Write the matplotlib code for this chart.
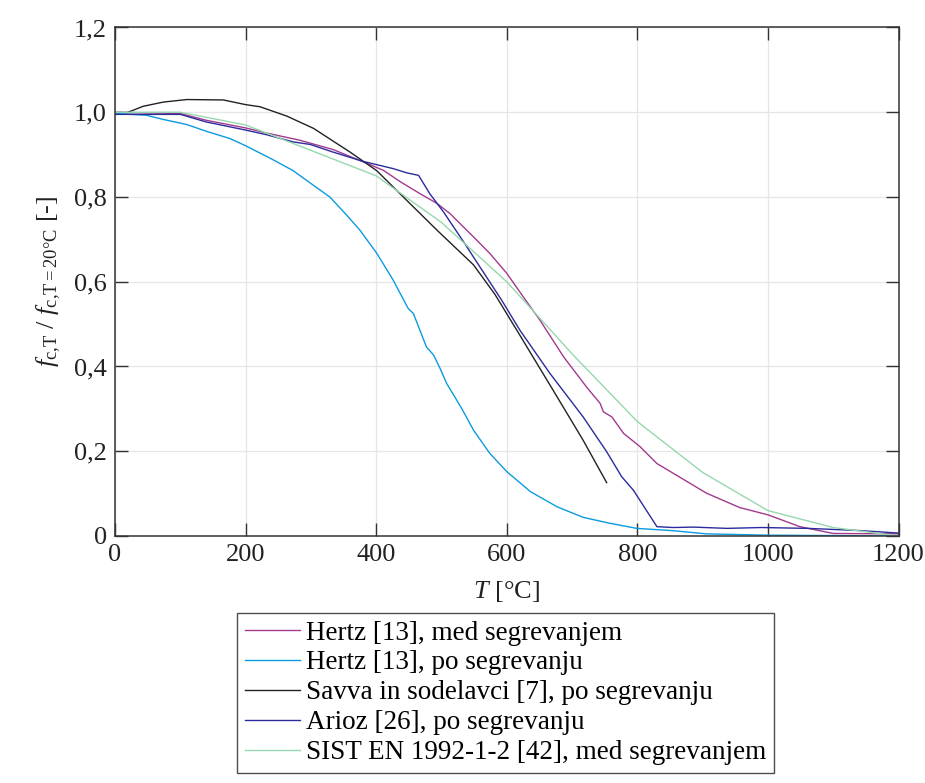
import matplotlib
matplotlib.use('Agg')
import matplotlib.pyplot as plt

# Hertz [13], med segrevanjem
t_hertz_med = [0, 100, 140, 200, 232, 283, 334, 380, 411, 437, 467, 493, 513, 528,
               549, 574, 600, 625, 651, 687, 722, 743, 748, 761, 779, 804, 830,
               855, 906, 957, 1000, 1049, 1100, 1200]
v_hertz_med = [1.0, 0.997, 0.981, 0.963, 0.951, 0.934, 0.912, 0.883, 0.863, 0.836, 0.808,
               0.785, 0.761, 0.738, 0.706, 0.667, 0.620, 0.565, 0.509, 0.423, 0.352,
               0.313, 0.293, 0.281, 0.242, 0.211, 0.171, 0.148, 0.101, 0.067, 0.050,
               0.022, 0.006, 0.005]

# Hertz [13], po segrevanju
t_hertz_po = [0, 48, 74, 110, 140, 176, 200, 242, 273, 299, 329, 355, 375, 401, 426,
              449, 457, 477, 488, 498, 508, 531, 549, 574, 600, 636, 677, 717, 758,
              799, 855, 906, 1000, 1200]
v_hertz_po = [0.997, 0.993, 0.983, 0.971, 0.955, 0.938, 0.921, 0.888, 0.862, 0.833,
              0.800, 0.757, 0.722, 0.667, 0.604, 0.537, 0.525, 0.446, 0.427, 0.395,
              0.360, 0.301, 0.250, 0.195, 0.152, 0.105, 0.069, 0.044, 0.030, 0.018,
              0.0125, 0.005, 0.002, 0.0]

# Savva in sodelavci [7], po segrevanju
t_savva = [20, 43, 74, 110, 166, 200, 222, 263, 304, 360, 401, 437, 493, 549, 582,
           620, 671, 717, 753]
v_savva = [1.0, 1.014, 1.024, 1.030, 1.029, 1.018, 1.013, 0.991, 0.962, 0.906, 0.862,
           0.807, 0.722, 0.640, 0.570, 0.474, 0.344, 0.226, 0.126]

# Arioz [26], po segrevanju
t_arioz = [0, 100, 140, 200, 232, 273, 299, 334, 380, 426, 447, 465, 482, 503, 534,
           564, 592, 620, 666, 717, 753, 776, 794, 830, 855, 886, 937, 990, 1061,
           1138, 1200]
v_arioz = [0.995, 0.995, 0.977, 0.958, 0.947, 0.930, 0.924, 0.906, 0.884, 0.867,
           0.857, 0.851, 0.808, 0.765, 0.694, 0.623, 0.557, 0.486, 0.384, 0.281,
           0.199, 0.140, 0.108, 0.022, 0.020, 0.021, 0.018, 0.020, 0.018, 0.013, 0.007]

# SIST EN 1992-1-2 [42], med segrevanjem
t_sist = [0, 100, 200, 300, 400, 500, 600, 700, 800, 900, 1000, 1100, 1200]
v_sist = [1.0, 1.0, 0.97, 0.91, 0.85, 0.74, 0.60, 0.43, 0.27, 0.15, 0.06, 0.02, 0.0]

x_ticks = [0, 200, 400, 600, 800, 1000, 1200]
y_ticks = [0, 0.2, 0.4, 0.6, 0.8, 1.0, 1.2]
y_tick_labels = ['0', '0,2', '0,4', '0,6', '0,8', '1,0', '1,2']

plt.rcParams['font.family'] = ['Liberation Serif', 'DejaVu Serif']
plt.rcParams['mathtext.fontset'] = 'custom'
plt.rcParams['mathtext.rm'] = 'Liberation Serif'
plt.rcParams['mathtext.it'] = 'Liberation Serif:italic'

fig = plt.figure(figsize=(9.25, 7.83), dpi=100)
ax = fig.add_axes([115 / 925, 1 - 536 / 783, (898.5 - 115) / 925, (536 - 27.5) / 783])

lw = 1.0
ax.plot(t_hertz_med, v_hertz_med, color='#a23a8e', lw=lw, label='Hertz [13], med segrevanjem')
ax.plot(t_hertz_po, v_hertz_po, color='#0a9be0', lw=lw, label='Hertz [13], po segrevanju')
ax.plot(t_savva, v_savva, color='#222222', lw=lw, label='Savva in sodelavci [7], po segrevanju')
ax.plot(t_arioz, v_arioz, color='#2b2b9e', lw=lw, label='Arioz [26], po segrevanju')
ax.plot(t_sist, v_sist, color='#96d8ae', lw=lw, label='SIST EN 1992-1-2 [42], med segrevanjem')

ax.set_xlim(0, 1200)
ax.set_ylim(0, 1.2)
ax.set_xticks(x_ticks)
ax.set_yticks(y_ticks)
ax.set_yticklabels(y_tick_labels)
ax.grid(True, color='#e6e6e6', lw=0.9)
ax.set_axisbelow(True)
ax.tick_params(direction='in', length=9.5, width=1.0, top=True, right=True,
               labelsize=19, colors='#333333', labelcolor='#222222', pad=6)
for s in ax.spines.values():
    s.set_color('#333333')
    s.set_linewidth(1.1)

ax.set_xlabel(r'$T$ [°C]', fontsize=19, color='#222222', labelpad=9)
ax.set_ylabel(r'$f_{\mathrm{c{,}T}}$ / $f_{\mathrm{c{,}T=20°C}}$ [-]', fontsize=19,
              color='#222222', labelpad=8)

leg = ax.legend(loc='upper left', bbox_to_anchor=(237 / 925, 1 - 613 / 783),
                bbox_transform=fig.transFigure, fontsize=19.5, frameon=True,
                fancybox=False, edgecolor='#222222', handlelength=2.05,
                handletextpad=0.22, labelspacing=0.18, borderpad=0.28,
                borderaxespad=0)
leg.get_frame().set_linewidth(1.0)

fig.savefig('out.png', dpi=100)
